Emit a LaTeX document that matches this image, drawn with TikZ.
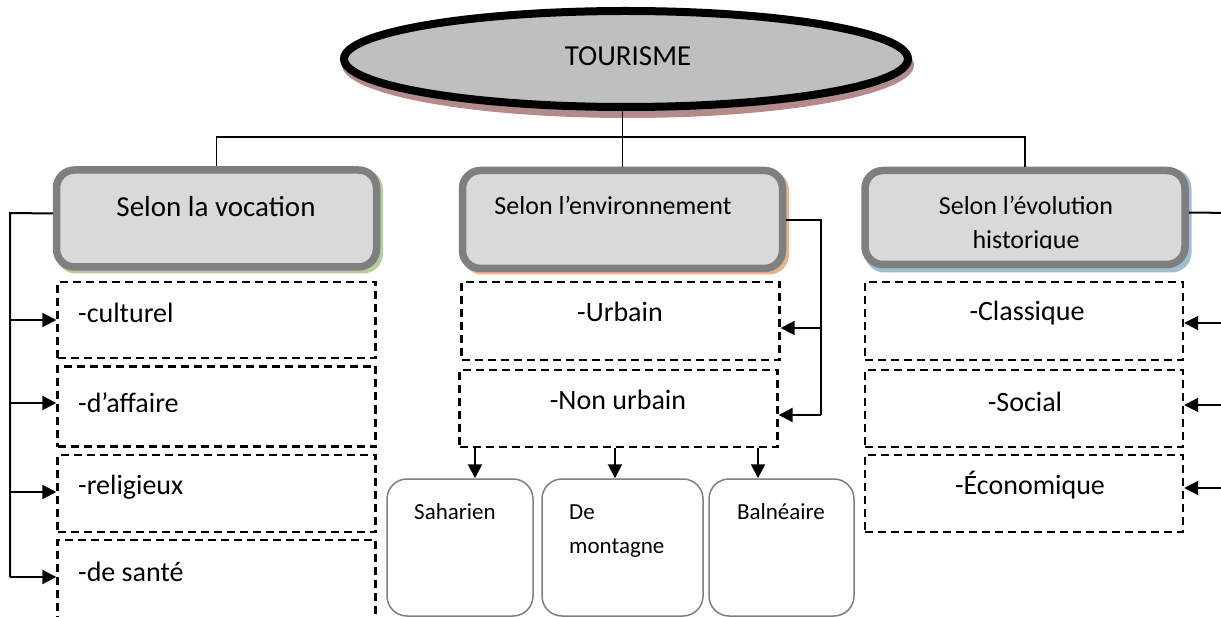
\documentclass[tikz,border=0pt]{standalone}
\usepackage{fontspec}
\setmainfont{Carlito}
\usetikzlibrary{arrows.meta,shapes.geometric}
\definecolor{bordergrey}{HTML}{7F7F7F}
\definecolor{boxfill}{HTML}{D9D9D9}
\definecolor{ellfill}{HTML}{BFBFBF}
\definecolor{shbrown}{HTML}{B58A8A}
\definecolor{shgreen}{HTML}{B8CC98}
\definecolor{shorange}{HTML}{E3B48F}
\definecolor{shblue}{HTML}{9DBFCF}
\tikzset{
  bigbox/.style={draw=bordergrey, line width=7.5, fill=boxfill, rounded corners=18, minimum width=320, minimum height=97, inner sep=0},
  bigshadow/.style={rounded corners=20, minimum width=327, minimum height=104, inner sep=0},
  dbox/.style={draw, line width=2.4, dash pattern=on 8pt off 5pt, minimum width=318, inner sep=0},
  sbox/.style={draw=bordergrey, line width=1.5, rounded corners=20, minimum height=137, inner sep=0},
  txt/.style={inner sep=0, font=\fontsize{28}{34}\selectfont},
  htxt/.style={inner sep=0, font=\fontsize{26}{32}\selectfont},
  stxt/.style={inner sep=0, font=\fontsize{23}{28}\selectfont},
  link/.style={line width=1.5},
  conn/.style={line width=2},
  arr/.style={line width=2, -{Triangle[length=14pt,width=14pt]}}
}
\begin{document}
\begin{tikzpicture}[x=1pt,y=-1pt]
\useasboundingbox (0,0) rectangle (1221,617);
\clip (0,0) rectangle (1221,617);
\fill[white] (0,0) rectangle (1221,617);

% ellipse
\node[ellipse, fill=shbrown, minimum width=572, minimum height=106, inner sep=0] (elsh) at (628,65) {};
\node[ellipse, draw, line width=8, fill=ellfill, minimum width=564, minimum height=96, inner sep=0] (el) at (626,59) {};
\node[txt, font=\fontsize{29}{34}\selectfont] (t0) at (628,56) {TOURISME};

% big boxes
\node[bigshadow, fill=shgreen] (b1sh) at (219.5,221.5) {};
\node[bigbox] (b1) at (216.5,218.5) {};
\node[txt, font=\fontsize{29}{34}\selectfont] (t1) at (216,207) {Selon la vocation};

\node[bigshadow, fill=shorange] (b2sh) at (625.5,222.5) {};
\node[bigbox, minimum height=98] (b2) at (622.5,219.5) {};
\node[htxt] (t2) at (613,205) {Selon l’environnement};

\node[bigshadow, fill=shblue] (b3sh) at (1028,220.5) {};
\node[bigbox, minimum height=94] (b3) at (1025,217.5) {};
\node[htxt] (t3a) at (1026,205) {Selon l’évolution};
\begin{scope}
\clip (880,225) rectangle (1170,249);
\node[htxt] (t3b) at (1026,242) {historique};
\end{scope}

% top connectors
\draw[link] (el.south -| b2.north) -- (b2.north);
\draw[link] (b1.north) -- (b1.north |- 0,137) -- (b3.north |- 0,137) -- (b3.north);

% left column
\node[dbox, minimum height=76] (cult) at (216.5,320) {};
\node[dbox, minimum height=80] (aff) at (216.5,406.5) {};
\node[dbox, minimum height=77] (rel) at (216.5,493.5) {};
\node[dbox, minimum height=120] (san) at (216.5,600) {};
\node[txt, anchor=west] (tc) at (78,313) {-culturel};
\node[txt, anchor=west] (ta) at (78,403) {-d’affaire};
\node[txt, anchor=west] (tr) at (78,487) {-religieux};
\node[txt, anchor=west] (ts) at (78,572) {-de santé};
\coordinate (L) at (10,213);
\draw[conn] ([yshift=5pt]b1.west) -- (L) -- (L |- 0,577);
\draw[arr] (L |- cult.west) -- (cult.west);
\draw[arr] (L |- 0,403) -- (aff.west |- 0,403);
\draw[arr] (L |- 0,492) -- (rel.west |- 0,492);
\draw[arr] (L |- 0,577) -- (san.west |- 0,577);

% middle column
\node[dbox, minimum height=78] (urb) at (620.5,321) {};
\node[dbox, minimum height=77] (nu) at (618.5,408.5) {};
\node[txt] (tu) at (620,312) {-Urbain};
\node[txt] (tn) at (618,400) {-Non urbain};
\coordinate (M) at (821,220);
\draw[conn] (b2.east |- M) -- (M) -- (M |- 0,415);
\draw[arr] (M |- 0,328) -- (urb.east |- 0,328);
\draw[arr] (M |- 0,415) -- (nu.east |- 0,415);

\node[sbox, minimum width=146] (sah) at (460,547.5) {};
\node[sbox, minimum width=161] (mon) at (622.5,547.5) {};
\node[sbox, minimum width=145] (bal) at (781.5,547.5) {};
\node[stxt] (tsa) at (455,512) {Saharien};
\node[stxt, anchor=west] (tde) at (569,512) {De};
\node[stxt, anchor=west] (tmo) at (569,548) {montagne};
\node[stxt] (tba) at (781,512) {Balnéaire};
\draw[arr] (nu.south -| 475,0) -- (sah.north -| 475,0);
\draw[arr] (nu.south -| 615,0) -- (mon.north -| 615,0);
\draw[arr] (nu.south -| 758,0) -- (bal.north -| 758,0);

% right column
\node[dbox, minimum height=78] (cls) at (1024,321) {};
\node[dbox, minimum height=77] (soc) at (1024,408.5) {};
\node[dbox, minimum height=77] (eco) at (1024,493.5) {};
\node[txt] (tcl) at (1027,313) {-Classique};
\node[txt] (tso) at (1025,402) {-Social};
\node[txt] (tec) at (1030,485) {-Économique};
\coordinate (R) at (1232,213);
\draw[conn] ([yshift=5pt]b3.east) -- (R) -- (R |- 0,488);
\draw[arr] (R |- 0,323) -- (cls.east |- 0,323);
\draw[arr] (R |- 0,405) -- (soc.east |- 0,405);
\draw[arr] (R |- 0,488) -- (eco.east |- 0,488);
\end{tikzpicture}
\end{document}
